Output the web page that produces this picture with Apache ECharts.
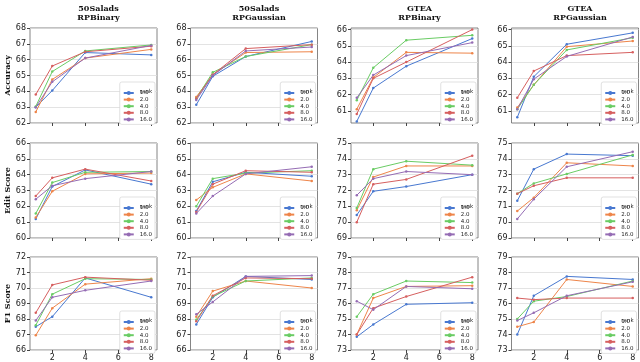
<!DOCTYPE html>
<html>
<head>
<meta charset="utf-8">
<script src="https://cdn.jsdelivr.net/npm/echarts@6/dist/echarts.min.js"></script>
<style>
html, body { margin: 0; padding: 0; background: #fff; }
#chart { width: 640px; height: 362px; }
</style>
</head>
<body>
<div id="chart"></div>
<script>
// x positions and legend names
var xValues = [1, 2, 4, 8];
var xTicks = [2, 4, 6, 8];
var ranks = ['1.0', '2.0', '4.0', '8.0', '16.0'];
var colors = ['#4878d0', '#ee854a', '#6acc64', '#d65f5f', '#956cb4'];
var colTitles = ['50Salads\nRPBinary', '50Salads\nRPGaussian', 'GTEA\nRPBinary', 'GTEA\nRPGaussian'];
var rowNames = ['Accuracy', 'Edit Score', 'F1 Score'];

// y ranges per row (left pair / right pair)
var yRanges = [
    [[62, 68], [62, 68], [60.25, 66.1], [60.25, 66.1]],
    [[60, 66], [60, 66], [69, 75], [69, 75]],
    [[66, 72], [66, 72], [73, 79], [73, 79]]
];

// each panel: one row per rank (1, 2, 4, 8, 16), values at x = 1, 2, 4, 8
var acc50Binary = [
    [63.0, 64.05, 66.45, 66.3],
    [62.7, 64.75, 66.1, 66.65],
    [63.05, 65.25, 66.55, 66.93],
    [63.8, 65.6, 66.5, 66.85],
    [63.0, 64.6, 66.1, 66.9]
];
var acc50Gauss = [
    [63.15, 64.95, 66.2, 67.15],
    [63.65, 65.05, 66.45, 66.5],
    [63.55, 65.2, 66.2, 66.95],
    [63.55, 65.05, 66.7, 66.95],
    [63.45, 65.0, 66.55, 66.8]
];
var accGteaBinary = [
    [60.35, 62.4, 63.75, 65.45],
    [61.1, 63.05, 64.6, 64.55],
    [61.65, 63.65, 65.35, 65.65],
    [60.8, 63.0, 64.0, 66.0],
    [61.8, 63.2, 64.4, 65.2]
];
var accGteaGauss = [
    [60.6, 63.1, 65.1, 65.8],
    [61.2, 62.6, 64.95, 65.3],
    [61.1, 62.6, 64.75, 65.5],
    [61.8, 63.45, 64.4, 64.6],
    [61.1, 62.95, 64.35, 65.55]
];
var edit50Binary = [
    [61.2, 63.25, 64.3, 63.4],
    [61.3, 62.95, 64.05, 64.1],
    [61.55, 63.5, 64.15, 64.2],
    [62.65, 63.8, 64.35, 63.6],
    [62.45, 63.3, 63.75, 64.2]
];
var edit50Gauss = [
    [61.7, 63.55, 64.15, 63.9],
    [62.4, 63.2, 64.05, 63.6],
    [62.0, 63.75, 64.1, 64.25],
    [61.65, 63.4, 64.25, 64.15],
    [61.55, 62.65, 64.05, 64.5]
];
var editGteaBinary = [
    [70.45, 71.95, 72.25, 73.0],
    [70.75, 72.85, 73.55, 73.55],
    [70.9, 73.35, 73.85, 73.6],
    [70.0, 72.4, 72.7, 74.2],
    [71.7, 72.75, 73.2, 73.0]
];
var editGteaGauss = [
    [71.35, 73.35, 74.3, 74.2],
    [70.7, 71.55, 73.75, 73.55],
    [71.8, 72.45, 73.05, 74.25],
    [71.8, 72.3, 72.8, 72.8],
    [70.2, 71.45, 73.5, 74.45]
];
var f150Binary = [
    [67.5, 68.15, 70.65, 69.4],
    [66.95, 68.7, 70.25, 70.6],
    [67.6, 69.6, 70.6, 70.55],
    [68.4, 70.2, 70.7, 70.5],
    [67.9, 69.4, 69.85, 70.45]
];
var f150Gauss = [
    [67.65, 69.4, 70.75, 70.55],
    [68.15, 69.8, 70.45, 70.0],
    [67.95, 69.45, 70.45, 70.65],
    [67.85, 69.5, 70.65, 70.6],
    [68.3, 69.1, 70.75, 70.8]
];
var f1GteaBinary = [
    [73.85, 74.65, 75.95, 76.05],
    [74.0, 76.35, 77.1, 77.15],
    [75.15, 76.6, 77.45, 77.35],
    [74.0, 75.7, 76.45, 77.7],
    [76.15, 75.6, 77.1, 76.95]
];
var f1GteaGauss = [
    [74.0, 76.5, 77.75, 77.55],
    [74.5, 74.8, 77.55, 77.1],
    [75.0, 76.15, 76.45, 77.45],
    [76.35, 76.25, 76.35, 76.35],
    [74.9, 75.4, 76.5, 77.4]
];

var panels = [
    [acc50Binary, acc50Gauss, accGteaBinary, accGteaGauss],
    [edit50Binary, edit50Gauss, editGteaBinary, editGteaGauss],
    [f150Binary, f150Gauss, f1GteaBinary, f1GteaGauss]
];

// layout
var colLeft = [30, 190.5, 351, 511.5];
var rowTop = [28, 143, 257];
var panelW = 127;
var panelH = 95;
var legH = 39;

var grids = [], xAxes = [], yAxes = [], series = [], legends = [], titles = [];

colTitles.forEach(function (t, c) {
    titles.push({
        text: t,
        left: colLeft[c] + panelW / 2,
        top: 0,
        textAlign: 'center',
        textStyle: { fontFamily: 'DejaVu Serif', fontWeight: 'bold', fontSize: 8, lineHeight: 8.5, color: '#111' }
    });
});

for (var r = 0; r < 3; r++) {
    for (var c = 0; c < 4; c++) {
        var idx = grids.length;
        var yr = yRanges[r][c];
        var yLabels = [];
        for (var v = Math.ceil(yr[0]); v <= Math.floor(yr[1]); v++) yLabels.push(v);
        grids.push({
            left: colLeft[c], top: rowTop[r], width: panelW, height: panelH,
            show: true, borderColor: '#666', borderWidth: 0.8, backgroundColor: '#fff'
        });
        xAxes.push({
            type: 'value', gridIndex: idx, min: 0.65, max: 8.35,
            axisLine: { show: false },
            axisTick: { show: true, length: 3, lineStyle: { color: '#444' }, customValues: xTicks },
            axisLabel: { show: r === 2, customValues: xTicks, fontSize: 8, color: '#222', margin: 4, fontFamily: 'DejaVu Sans' },
            splitLine: { show: false }
        });
        yAxes.push({
            type: 'value', gridIndex: idx, min: yr[0], max: yr[1],
            name: c === 0 ? rowNames[r] : '',
            nameLocation: 'middle', nameRotate: 90, nameGap: 16,
            nameTextStyle: { fontFamily: 'DejaVu Serif', fontWeight: 'bold', fontSize: 8, color: '#111' },
            axisLine: { show: false },
            axisTick: { show: true, length: 3, lineStyle: { color: '#444' }, customValues: yLabels },
            axisLabel: { customValues: yLabels, fontSize: 8, color: '#222', margin: 4, fontFamily: 'DejaVu Sans' },
            splitLine: { show: true, lineStyle: { color: '#dcdcdc', width: 0.8 } }
        });
        var data = panels[r][c];
        ranks.forEach(function (name, k) {
            series.push({
                type: 'line', name: name, xAxisIndex: idx, yAxisIndex: idx,
                data: xValues.map(function (x, i) { return [x, data[k][i]]; }),
                symbol: 'circle', symbolSize: 2.5,
                itemStyle: { color: colors[k] },
                lineStyle: { color: colors[k], width: 1 },
                animation: false
            });
        });
        var legRight = colLeft[c] + panelW - 2;
        var legTop = rowTop[r] + panelH - 2 - legH;
        legends.push({
            data: ranks,
            orient: 'vertical',
            right: 640 - legRight,
            top: legTop,
            padding: [8, 3, 2, 3],
            itemWidth: 10, itemHeight: 5, itemGap: 0.6,
            backgroundColor: '#fff', borderColor: '#ccc', borderWidth: 0.6, borderRadius: 2,
            textStyle: { fontSize: 5.5, lineHeight: 6, color: '#222', fontFamily: 'DejaVu Sans', padding: [0, 0, 0, 1] }
        });
        titles.push({
            text: 'rank',
            left: legRight - 14,
            top: legTop + 1.5,
            textAlign: 'center',
            textStyle: { fontSize: 5.5, fontWeight: 'normal', color: '#222', fontFamily: 'DejaVu Sans' }
        });
    }
}

var chart = echarts.init(document.getElementById('chart'));
chart.setOption({
    animation: false,
    backgroundColor: '#fff',
    title: titles,
    grid: grids,
    xAxis: xAxes,
    yAxis: yAxes,
    legend: legends,
    series: series
});
</script>
</body>
</html>
